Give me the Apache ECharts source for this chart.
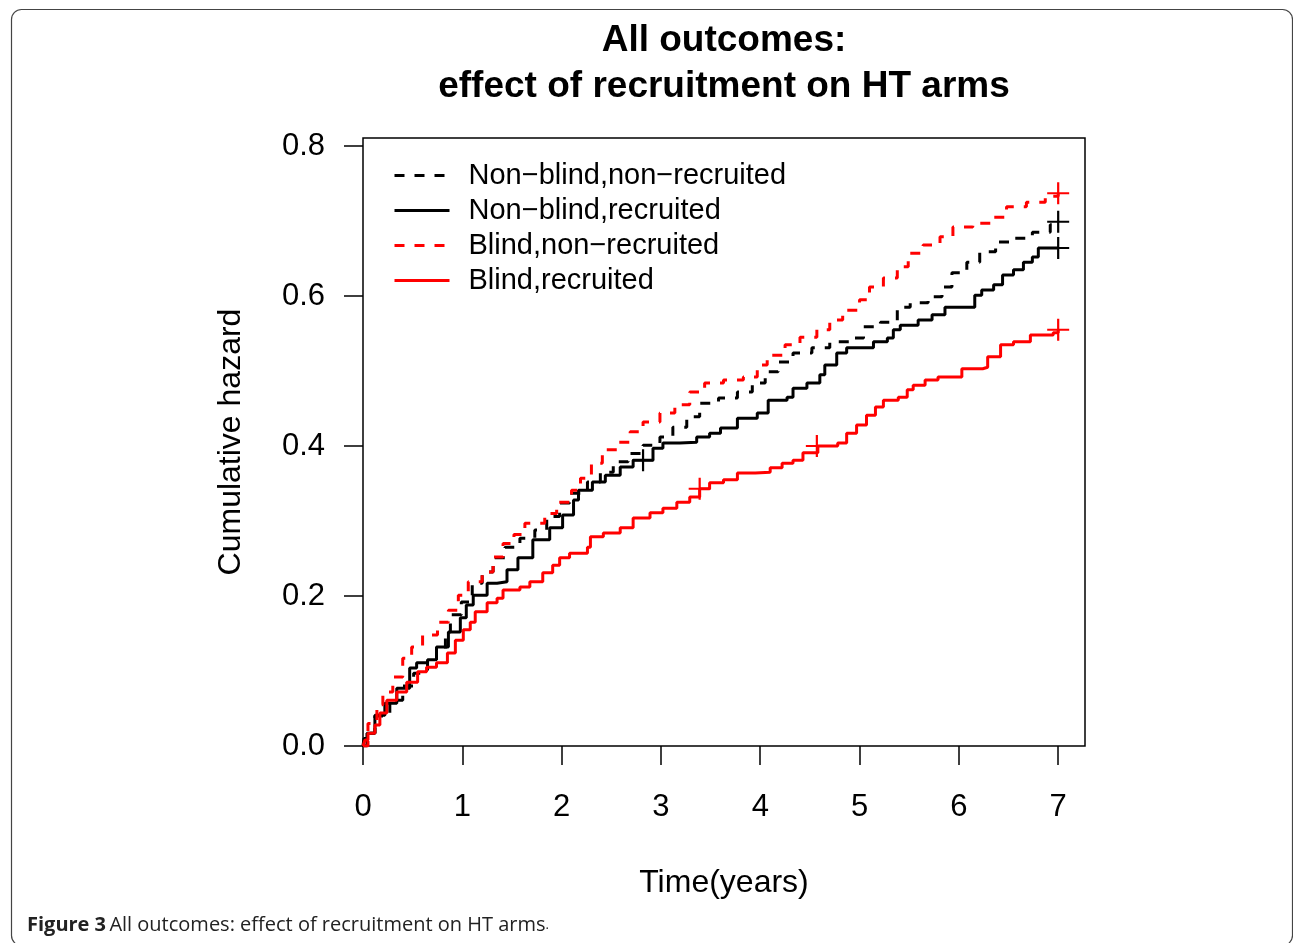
<!DOCTYPE html>
<html>
<head>
<meta charset="utf-8">
<script src="https://cdn.jsdelivr.net/npm/echarts@6/dist/echarts.min.js"></script>
<style>
html,body{margin:0;padding:0;background:#fff;}
#chart{width:1293px;height:943px;}
</style>
</head>
<body>
<div id="chart"></div>
<script>
// ---- data ----
const seriesNames = ['Non\u2212blind,non\u2212recruited', 'Non\u2212blind,recruited', 'Blind,non\u2212recruited', 'Blind,recruited'];
const xTicks = [0, 1, 2, 3, 4, 5, 6, 7];
const yTicks = [0, 0.2, 0.4, 0.6, 0.8];

const nbnrT = [0, 0.04, 0.12, 0.27, 0.40, 0.51, 0.65, 0.74, 0.83, 0.88, 0.99, 1.10, 1.20, 1.31, 1.43, 1.58, 1.73, 1.85, 1.98, 2.08, 2.26, 2.39, 2.52, 2.67, 2.82, 2.99, 3.12, 3.26, 3.39, 3.58, 3.77, 3.92, 4.05, 4.18, 4.33, 4.52, 4.70, 4.90, 5.04, 5.21, 5.38, 5.51, 5.69, 5.83, 5.93, 6.08, 6.21, 6.37, 6.55, 6.74, 6.92, 7.0];
const nbnrH = [0, 0.017, 0.040, 0.061, 0.080, 0.097, 0.113, 0.128, 0.152, 0.175, 0.192, 0.217, 0.232, 0.251, 0.265, 0.277, 0.288, 0.306, 0.324, 0.337, 0.352, 0.365, 0.379, 0.390, 0.401, 0.412, 0.425, 0.439, 0.457, 0.464, 0.472, 0.484, 0.499, 0.512, 0.524, 0.531, 0.539, 0.544, 0.559, 0.565, 0.585, 0.591, 0.599, 0.612, 0.631, 0.645, 0.659, 0.672, 0.677, 0.685, 0.695, 0.699];

const nbrT = [0, 0.01, 0.04, 0.12, 0.22, 0.34, 0.47, 0.54, 0.65, 0.74, 0.86, 0.98, 1.04, 1.11, 1.25, 1.35, 1.45, 1.56, 1.71, 1.88, 2.01, 2.12, 2.17, 2.31, 2.44, 2.59, 2.72, 2.92, 3.02, 3.19, 3.36, 3.49, 3.60, 3.77, 3.97, 4.08, 4.27, 4.33, 4.47, 4.60, 4.65, 4.77, 4.87, 5.14, 5.28, 5.34, 5.41, 5.59, 5.73, 5.86, 6.16, 6.23, 6.35, 6.44, 6.55, 6.65, 6.74, 6.80, 7.0];
const nbrH = [0, 0.010, 0.017, 0.041, 0.057, 0.077, 0.104, 0.111, 0.115, 0.132, 0.152, 0.171, 0.188, 0.201, 0.217, 0.219, 0.235, 0.251, 0.275, 0.291, 0.308, 0.328, 0.341, 0.352, 0.361, 0.372, 0.381, 0.397, 0.404, 0.405, 0.412, 0.417, 0.424, 0.437, 0.444, 0.461, 0.465, 0.477, 0.484, 0.495, 0.508, 0.524, 0.531, 0.539, 0.544, 0.555, 0.561, 0.568, 0.575, 0.585, 0.601, 0.608, 0.615, 0.628, 0.635, 0.645, 0.652, 0.664, 0.664];

const bnrT = [0, 0.05, 0.14, 0.20, 0.30, 0.40, 0.49, 0.60, 0.75, 0.86, 0.96, 1.06, 1.20, 1.31, 1.41, 1.52, 1.63, 1.83, 1.95, 2.10, 2.19, 2.30, 2.41, 2.56, 2.69, 2.82, 2.99, 3.14, 3.29, 3.44, 3.63, 3.83, 3.97, 4.07, 4.25, 4.40, 4.57, 4.70, 4.83, 5.00, 5.10, 5.24, 5.38, 5.49, 5.64, 5.81, 5.94, 6.14, 6.35, 6.48, 6.68, 6.87, 7.0];
const bnrH = [0, 0.030, 0.055, 0.072, 0.092, 0.117, 0.132, 0.148, 0.165, 0.181, 0.201, 0.219, 0.232, 0.252, 0.270, 0.282, 0.297, 0.310, 0.325, 0.341, 0.357, 0.377, 0.395, 0.405, 0.419, 0.432, 0.444, 0.455, 0.472, 0.484, 0.488, 0.492, 0.508, 0.521, 0.535, 0.545, 0.555, 0.568, 0.581, 0.595, 0.612, 0.624, 0.639, 0.657, 0.668, 0.679, 0.692, 0.697, 0.705, 0.719, 0.725, 0.733, 0.737];

const brT = [0, 0.02, 0.05, 0.12, 0.17, 0.24, 0.34, 0.44, 0.55, 0.64, 0.74, 0.85, 0.93, 1.01, 1.08, 1.13, 1.25, 1.35, 1.41, 1.58, 1.68, 1.81, 1.91, 1.98, 2.08, 2.26, 2.29, 2.42, 2.59, 2.72, 2.89, 3.02, 3.16, 3.29, 3.39, 3.49, 3.63, 3.77, 3.95, 4.10, 4.22, 4.33, 4.43, 4.58, 4.78, 4.87, 4.97, 5.07, 5.16, 5.24, 5.39, 5.48, 5.54, 5.66, 5.79, 6.03, 6.24, 6.29, 6.42, 6.55, 6.72, 6.95, 7.0];
const brH = [0, 0.008, 0.017, 0.028, 0.044, 0.061, 0.072, 0.085, 0.099, 0.105, 0.111, 0.124, 0.141, 0.155, 0.165, 0.179, 0.191, 0.197, 0.208, 0.212, 0.219, 0.231, 0.241, 0.251, 0.257, 0.265, 0.279, 0.284, 0.291, 0.304, 0.311, 0.317, 0.325, 0.332, 0.343, 0.351, 0.355, 0.364, 0.365, 0.371, 0.377, 0.381, 0.391, 0.400, 0.404, 0.417, 0.428, 0.441, 0.452, 0.461, 0.465, 0.475, 0.481, 0.488, 0.492, 0.503, 0.505, 0.519, 0.535, 0.539, 0.548, 0.551, 0.555];

// censoring marks
const nbnrCensor = [[7.0, 0.699]];
const nbrCensor = [[2.82, 0.381], [7.0, 0.664]];
const bnrCensor = [[7.0, 0.737]];
const brCensor = [[3.39, 0.343], [4.57, 0.400], [7.0, 0.555]];

// ---- chart ----
const zip = (t, h) => t.map((x, i) => [x, h[i]]);
const FONT = '"Liberation Sans", Arial, sans-serif';
const plusPath = 'path://M-1,-10L1,-10L1,10L-1,10Z M-10,-1L10,-1L10,1L-10,1Z';

function curve(name, t, h, color, dashed) {
  return {
    name: name, type: 'line', step: 'end', symbol: 'none', showSymbol: false,
    data: zip(t, h), animation: false, silent: true,
    lineStyle: { color: color, width: 3, type: dashed ? [10, 10] : 'solid' },
    itemStyle: { color: color }
  };
}
function censor(name, pts, color) {
  return {
    name: name, type: 'scatter', data: pts, symbol: plusPath, symbolSize: 22,
    itemStyle: { color: color, opacity: 1 }, animation: false, silent: true, z: 3
  };
}

const chart = echarts.init(document.getElementById('chart'), null, { renderer: 'canvas' });
chart.setOption({
  backgroundColor: '#ffffff',
  animation: false,
  title: {
    text: 'All outcomes:\neffect of recruitment on HT arms',
    left: 719, top: 13, textAlign: 'center',
    textStyle: { fontFamily: FONT, fontSize: 37, fontWeight: 'bold', color: '#000', lineHeight: 46 }
  },
  legend: {
    orient: 'vertical', left: 388, top: 156,
    data: seriesNames,
    itemWidth: 55, itemHeight: 26, itemGap: 6,
    itemStyle: { opacity: 0 },
    lineStyle: { width: 3 },
    textStyle: { fontFamily: FONT, fontSize: 29, color: '#000', padding: [0, 0, 0, 14] },
    selectedMode: false
  },
  grid: {
    left: 363, top: 138, width: 722, height: 608,
    show: true, borderColor: '#000', borderWidth: 1.5, backgroundColor: 'transparent'
  },
  xAxis: {
    type: 'value', min: 0, max: 7.27,
    name: 'Time(years)', nameLocation: 'middle', nameGap: 121,
    nameTextStyle: { fontFamily: FONT, fontSize: 32, color: '#000' },
    axisLine: { show: false },
    splitLine: { show: false },
    axisTick: { show: true, inside: false, length: 19, customValues: xTicks, lineStyle: { color: '#000', width: 1.5 } },
    axisLabel: { show: true, customValues: xTicks, margin: 46, fontFamily: FONT, fontSize: 31, color: '#000',
      formatter: v => String(v) }
  },
  yAxis: {
    type: 'value', min: 0, max: 0.8107,
    name: 'Cumulative hazard', nameLocation: 'middle', nameGap: 116, nameRotate: 90,
    nameTextStyle: { fontFamily: FONT, fontSize: 32, color: '#000' },
    axisLine: { show: false },
    splitLine: { show: false },
    axisTick: { show: true, inside: false, length: 19, customValues: yTicks, lineStyle: { color: '#000', width: 1.5 } },
    axisLabel: { show: true, customValues: yTicks, margin: 38, fontFamily: FONT, fontSize: 31, color: '#000',
      formatter: v => Number(v).toFixed(1) }
  },
  graphic: [
    { type: 'rect', left: 9, top: 7, shape: { x: 0, y: 0, width: 1281, height: 936, r: 10 },
      style: { fill: 'none', stroke: '#444', lineWidth: 1.2 }, silent: true, z: -10 },
    { type: 'text', left: 27, top: 915,
      style: {
        text: '{b|Figure 3} {n|All outcomes: effect of recruitment on HT arms}{s|.}',
        rich: {
          b: { fontFamily: '"Open Sans", sans-serif', fontWeight: 'bold', fontSize: 20, fill: '#222' },
          n: { fontFamily: '"Open Sans", sans-serif', fontSize: 20, fill: '#222' },
          s: { fontFamily: '"Open Sans", sans-serif', fontSize: 13, fill: '#222' }
        }
      }, silent: true }
  ],
  series: [
    curve(seriesNames[0], nbnrT, nbnrH, '#000000', true),
    curve(seriesNames[1], nbrT, nbrH, '#000000', false),
    curve(seriesNames[2], bnrT, bnrH, '#ff0000', true),
    curve(seriesNames[3], brT, brH, '#ff0000', false),
    censor('c1', nbnrCensor, '#000000'),
    censor('c2', nbrCensor, '#000000'),
    censor('c3', bnrCensor, '#ff0000'),
    censor('c4', brCensor, '#ff0000')
  ]
});
</script>
</body>
</html>
